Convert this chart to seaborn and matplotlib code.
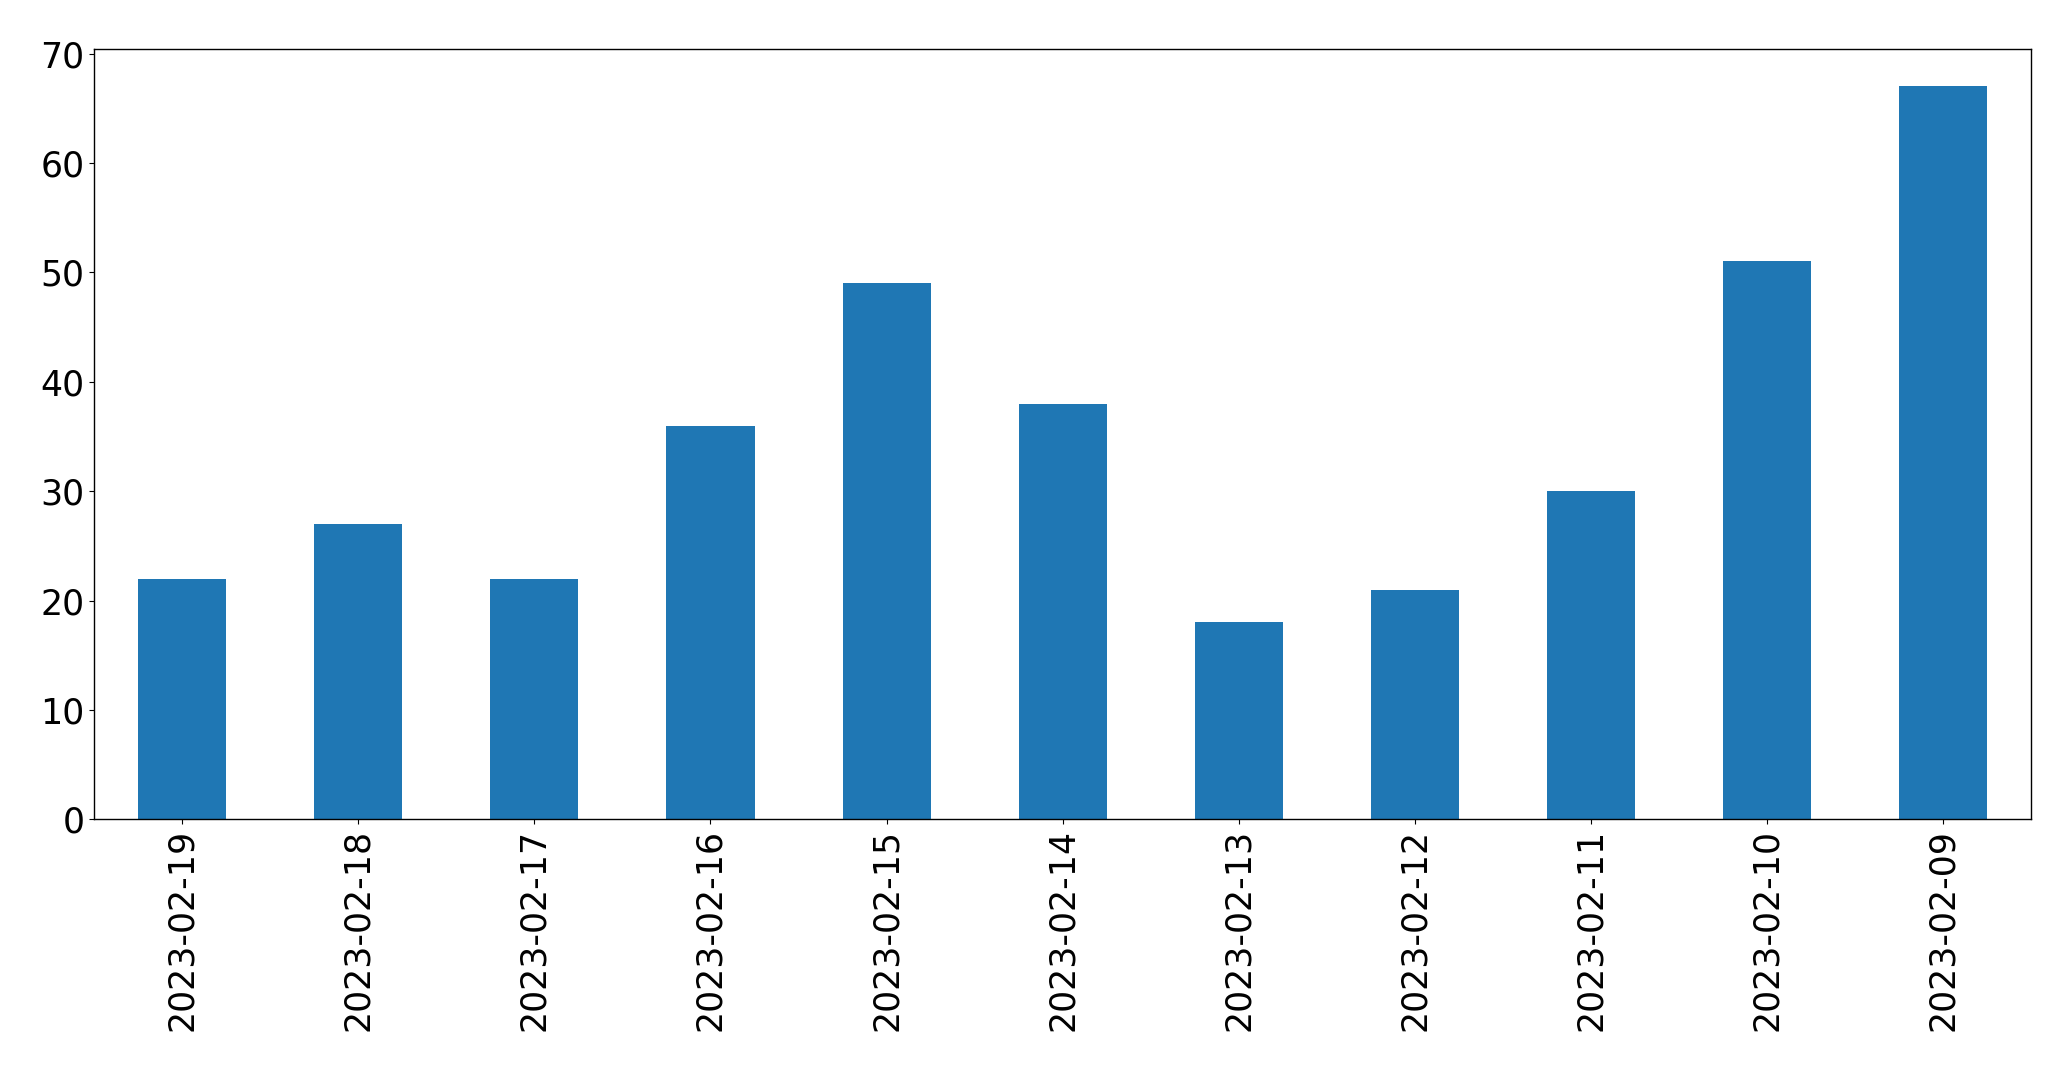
import matplotlib
matplotlib.use("Agg")
import matplotlib.pyplot as plt
import pandas as pd
import seaborn as sns

dates = ["2023-02-19", "2023-02-18", "2023-02-17", "2023-02-16",
         "2023-02-15", "2023-02-14", "2023-02-13", "2023-02-12",
         "2023-02-11", "2023-02-10", "2023-02-09"]
counts = [22, 27, 22, 36, 49, 38, 18, 21, 30, 51, 67]

df = pd.DataFrame({"date": dates, "count": counts})

sns.set_style("white")
plt.rcParams['font.family'] = ['DejaVu Sans']
plt.rcParams['text.color'] = 'black'
plt.rcParams['xtick.color'] = 'black'
plt.rcParams['ytick.color'] = 'black'

fig, ax = plt.subplots(figsize=(20.71, 10.71), dpi=100)
sns.barplot(data=df, x="date", y="count", color="#1f77b4", saturation=1,
            width=0.5, linewidth=0, edgecolor="none", ax=ax)

ax.set_xlabel("")
ax.set_ylabel("")
ax.set_xlim(-0.5, len(dates) - 0.5)
ax.set_ylim(0, 70.4)
ax.tick_params(axis='both', which='major', labelsize=25, length=3.5,
               width=0.8, bottom=True, left=True, colors='black')
plt.xticks(rotation=90)
for s in ax.spines.values():
    s.set_color("black")
    s.set_linewidth(1)

plt.subplots_adjust(left=0.0455, right=0.9807, top=0.954, bottom=0.235)
plt.savefig("out.png", dpi=100)
